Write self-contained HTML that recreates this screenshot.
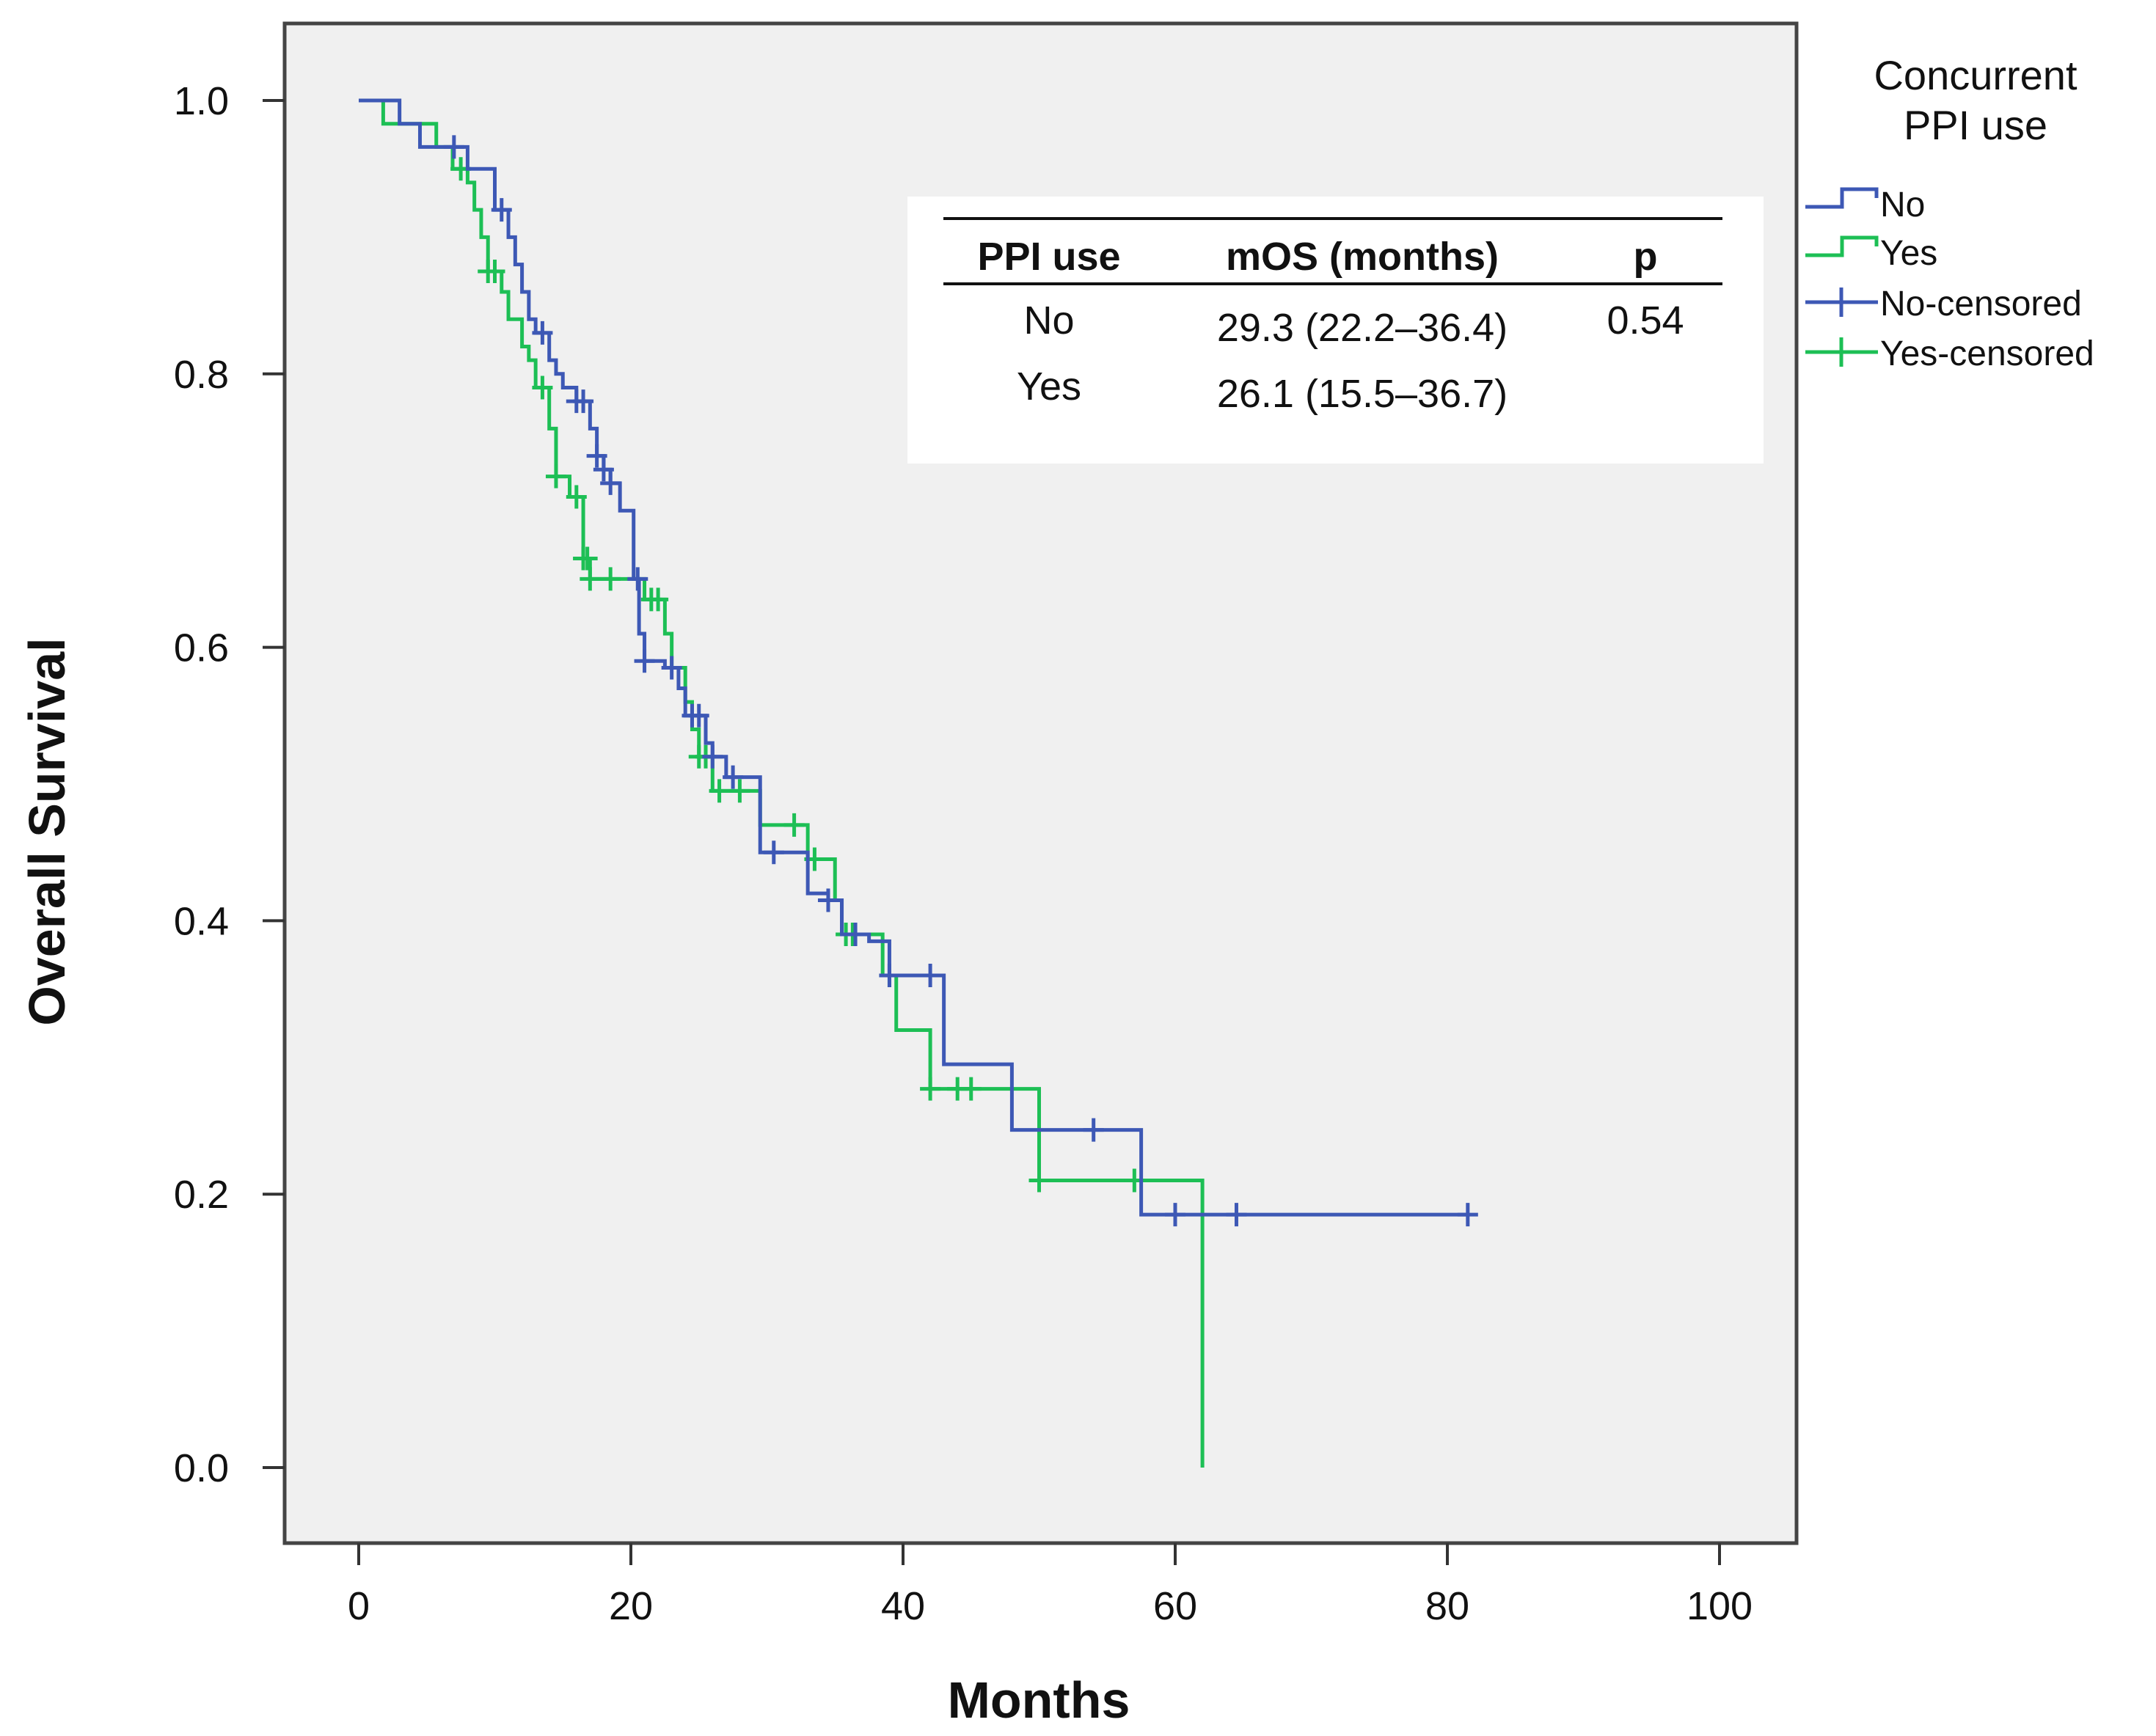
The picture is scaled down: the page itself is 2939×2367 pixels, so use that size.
<!DOCTYPE html>
<html><head><meta charset="utf-8">
<style>
html,body{margin:0;padding:0;background:#fff;}
svg{display:block;}
text{font-family:"Liberation Sans",sans-serif;fill:#111;}
</style></head>
<body>
<svg id="chart" width="2939" height="2367" viewBox="0 0 2939 2367" xmlns="http://www.w3.org/2000/svg">
<rect x="388" y="32" width="2061" height="2072" fill="#f0f0f0" stroke="#444" stroke-width="5"/>
<g id="axes"></g>
<g id="series"></g>
<text x="0" y="0" transform="translate(88,1134) rotate(-90)" text-anchor="middle" font-size="70" font-weight="bold">Overall Survival</text>
<text x="1416" y="2342" text-anchor="middle" font-size="70" font-weight="bold">Months</text>

<g>
<rect x="1237" y="268" width="1167" height="364" fill="#fff"/>
<line x1="1286" y1="298" x2="2348" y2="298" stroke="#111" stroke-width="4"/>
<line x1="1286" y1="387" x2="2348" y2="387" stroke="#111" stroke-width="4"/>
<text x="1430" y="368" text-anchor="middle" font-size="54" font-weight="bold">PPI use</text>
<text x="1857" y="368" text-anchor="middle" font-size="54" font-weight="bold">mOS (months)</text>
<text x="2243" y="368" text-anchor="middle" font-size="54" font-weight="bold">p</text>
<text x="1430" y="455" text-anchor="middle" font-size="54">No</text>
<text x="1857" y="465" text-anchor="middle" font-size="54">29.3 (22.2–36.4)</text>
<text x="2243" y="455" text-anchor="middle" font-size="54">0.54</text>
<text x="1430" y="545" text-anchor="middle" font-size="54">Yes</text>
<text x="1857" y="555" text-anchor="middle" font-size="54">26.1 (15.5–36.7)</text>
</g>

<g>
<text x="2693" y="122" text-anchor="middle" font-size="56">Concurrent</text>
<text x="2693" y="190" text-anchor="middle" font-size="56">PPI use</text>
<g>
<path d="M2461,282 H2511 V258 H2558 V270" fill="none" stroke="#3d58b5" stroke-width="5"/>
<text x="2563" y="295" font-size="48">No</text></g>
<g>
<path d="M2461,348 H2511 V324 H2558 V336" fill="none" stroke="#1dbf55" stroke-width="5"/>
<text x="2563" y="361" font-size="48">Yes</text></g>
<g>
<line x1="2461" y1="412" x2="2560" y2="412" stroke="#3d58b5" stroke-width="5"/>
<line x1="2510" y1="392" x2="2510" y2="432" stroke="#3d58b5" stroke-width="5"/>
<text x="2563" y="430" font-size="48">No-censored</text></g>
<g>
<line x1="2461" y1="480" x2="2560" y2="480" stroke="#1dbf55" stroke-width="5"/>
<line x1="2510" y1="460" x2="2510" y2="500" stroke="#1dbf55" stroke-width="5"/>
<text x="2563" y="498" font-size="48">Yes-censored</text></g>
</g>
</svg>
<script>
const xTicks=[0,20,40,60,80,100];
const yTicks=[0.0,0.2,0.4,0.6,0.8,1.0];
const yTickLabels=["0.0","0.2","0.4","0.6","0.8","1.0"];
const noTimes=[0,3,4.5,8,10,11,11.5,12,12.5,13,14,14.5,15,16,17,17.5,18,18.5,19.2,20.2,20.6,21,22.5,23.5,24,25.5,26,27,29.5,33,34.5,35.5,37.5,39,43,48,57.5,81.5];
const noSurv=[1.0,0.983,0.966,0.95,0.92,0.90,0.88,0.86,0.84,0.83,0.81,0.80,0.79,0.78,0.76,0.74,0.73,0.72,0.70,0.65,0.61,0.59,0.585,0.57,0.55,0.53,0.52,0.505,0.45,0.42,0.415,0.39,0.385,0.36,0.295,0.247,0.185,0.185];
const noCensor=[7,10.5,13.5,16,16.5,17.5,18,18.5,20.5,21,23,24.5,25,26,27.5,30.5,34.5,36.5,39,42,54,60,64.5,81.5];
const yesTimes=[0,1.8,5.7,6.9,8,8.5,9,9.5,10.5,11,12,12.5,13,14,14.5,15.5,16.5,17,21,22.5,23,24,24.5,25,26,29.5,33,35,35.5,38.5,39.5,42,50,62];
const yesSurv=[1.0,0.983,0.966,0.95,0.94,0.92,0.90,0.875,0.86,0.84,0.82,0.81,0.79,0.76,0.725,0.71,0.665,0.65,0.635,0.61,0.585,0.56,0.54,0.52,0.495,0.47,0.445,0.415,0.39,0.36,0.32,0.277,0.21,0.0];
const yesCensor=[7.5,9.5,10,13.5,14.5,16,16.5,16.8,17,18.5,21.5,22,25,25.5,26.5,28,32,33.5,35.8,36.3,39,42,44,45,50,57];

const X0=489,X100=2344,Y0=2001,Y1=137;
const xs=v=>X0+(X100-X0)*v/100;
const ys=v=>Y0+(Y1-Y0)*v;
const NS="http://www.w3.org/2000/svg";
function mk(tag,attrs,parent){const e=document.createElementNS(NS,tag);for(const k in attrs)e.setAttribute(k,attrs[k]);parent.appendChild(e);return e;}
const axes=document.getElementById('axes');
xTicks.forEach(t=>{
  const l=mk('line',{x1:xs(t),x2:xs(t),y1:2104,y2:2134,stroke:'#333','stroke-width':4},axes);
  
  
  const tx=mk('text',{x:xs(t),y:2208,'text-anchor':'middle','font-size':54},axes);
  tx.textContent=t;
  
  
});
yTicks.forEach((t,i)=>{
  const l=mk('line',{x1:358,x2:388,y1:ys(t),y2:ys(t),stroke:'#333','stroke-width':4},axes);
  
  
  const tx=mk('text',{x:312,y:ys(t)+19,'text-anchor':'end','font-size':54},axes);
  tx.textContent=yTickLabels[i];
  
  
});
const g=document.getElementById('series');
function survAt(times,surv,t){let s=surv[0];for(let i=0;i<times.length;i++){if(times[i]<=t)s=surv[i];}return s;}
function draw(times,surv,cens,color,name){
  let d='M'+xs(times[0])+','+ys(surv[0]);
  for(let i=1;i<times.length;i++){d+=' H'+xs(times[i])+' V'+ys(surv[i]);}
  const p=mk('path',{d:d,fill:'none',stroke:color,'stroke-width':5},g);
  
  
  cens.forEach(c=>{
    const y=ys(survAt(times,surv,c)),x=xs(c);
    const m=mk('path',{d:`M${x-14},${y} H${x+14} M${x},${y-16} V${y+16}`,stroke:color,'stroke-width':5,fill:'none'},g);
    
    
  });
}
draw(yesTimes,yesSurv,yesCensor,'#1dbf55','yes');
draw(noTimes,noSurv,noCensor,'#3d58b5','no');
</script>
</body></html>
